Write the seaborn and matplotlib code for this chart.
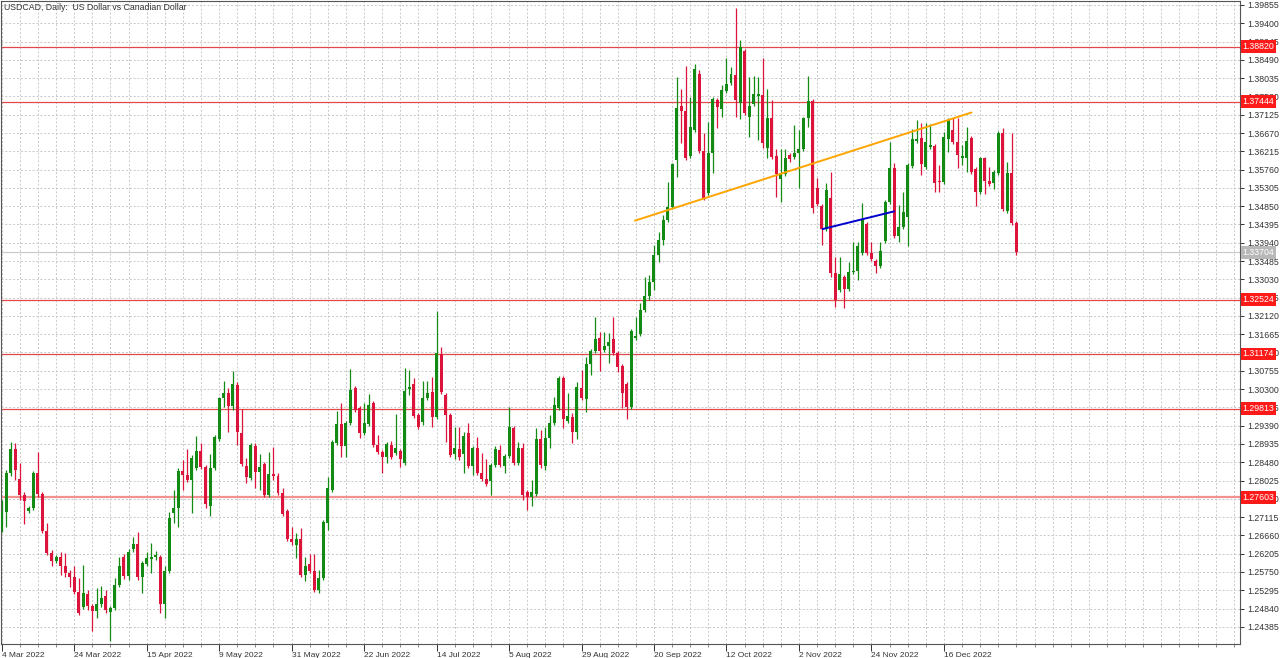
import numpy as np
import pandas as pd
import matplotlib
matplotlib.use('Agg')
import matplotlib.pyplot as plt
import seaborn as sns

sns.set_theme(style='white')
plt.rcParams['font.family'] = ['Liberation Sans', 'DejaVu Sans']

# ------------- data (USDCAD daily, 4 Mar 2022 .. end Dec 2022) -------------
opens = [
    1.2682, 1.2724, 1.2822, 1.2881, 1.2807, 1.2767, 1.2727, 1.2734, 1.2822, 1.2769,
    1.2677, 1.2623, 1.2603, 1.2613, 1.2590, 1.2573, 1.2563, 1.2525, 1.2488, 1.2520,
    1.2490, 1.2478, 1.2495, 1.2515, 1.2475, 1.2485, 1.2543, 1.2613, 1.2565, 1.2633,
    1.2645, 1.2563, 1.2595, 1.2608, 1.2613, 1.2613, 1.2495, 1.2578, 1.2722, 1.2734,
    1.2827, 1.2817, 1.2804, 1.2834, 1.2876, 1.2837, 1.2739, 1.2834, 1.2906, 1.3008,
    1.3021, 1.2988, 1.3041, 1.2921, 1.2839, 1.2809, 1.2888, 1.2824, 1.2844, 1.2767,
    1.2819, 1.2814, 1.2772, 1.2727, 1.2657, 1.2643, 1.2657, 1.2568, 1.2595, 1.2578,
    1.2530, 1.2560, 1.2697, 1.2779, 1.2896, 1.2943, 1.2888, 1.2946, 1.3033, 1.2983,
    1.2921, 1.2943, 1.2996, 1.2891, 1.2873, 1.2861, 1.2891, 1.2871, 1.2876, 1.2847,
    1.3031, 1.3043, 1.2966, 1.2948, 1.3008, 1.3023, 1.2961, 1.3117, 1.3016, 1.2966,
    1.2868, 1.2881, 1.2868, 1.2921, 1.2839, 1.2883, 1.2822, 1.2807, 1.2802, 1.2842,
    1.2878, 1.2839, 1.2863, 1.2933, 1.2847, 1.2883, 1.2774, 1.2762, 1.2769, 1.2906,
    1.2839, 1.2908, 1.2946, 1.2983, 1.3058, 1.2951, 1.2961, 1.2923, 1.3033, 1.3006,
    1.3092, 1.3125, 1.3157, 1.3127, 1.3137, 1.3155, 1.3120, 1.3087, 1.3043, 1.2986,
    1.3157, 1.3167, 1.3227, 1.3262, 1.3296, 1.3364, 1.3401, 1.3451, 1.3483, 1.3600,
    1.3734, 1.3722, 1.3610, 1.3675, 1.3814, 1.3623, 1.3518, 1.3618, 1.3749, 1.3727,
    1.3772, 1.3792, 1.3812, 1.3742, 1.3872, 1.3707, 1.3739, 1.3759, 1.3762, 1.3630,
    1.3704, 1.3610, 1.3553, 1.3565, 1.3613, 1.3608, 1.3618, 1.3628, 1.3704, 1.3747,
    1.3530, 1.3485, 1.3429, 1.3505, 1.3319, 1.3276, 1.3309, 1.3279, 1.3321, 1.3324,
    1.3369, 1.3441, 1.3369, 1.3349, 1.3336, 1.3399, 1.3495, 1.3580, 1.3411, 1.3434,
    1.3459, 1.3585, 1.3648, 1.3655, 1.3583, 1.3633, 1.3635, 1.3548, 1.3545, 1.3653,
    1.3675, 1.3645, 1.3605, 1.3605, 1.3655, 1.3578, 1.3520, 1.3605, 1.3548, 1.3543,
    1.3568, 1.3668, 1.3474, 1.3568, 1.3444,
]
highs = [
    1.2754, 1.2829, 1.2898, 1.2896, 1.2847, 1.2774, 1.2739, 1.2827, 1.2873, 1.2774,
    1.2697, 1.2630, 1.2618, 1.2625, 1.2623, 1.2580, 1.2590, 1.2560, 1.2593, 1.2530,
    1.2495, 1.2535, 1.2540, 1.2530, 1.2490, 1.2560, 1.2613, 1.2620, 1.2633, 1.2662,
    1.2674, 1.2603, 1.2625, 1.2648, 1.2628, 1.2618, 1.2590, 1.2724, 1.2779, 1.2834,
    1.2854, 1.2881, 1.2866, 1.2913, 1.2896, 1.2842, 1.2868, 1.2916, 1.3011, 1.3051,
    1.3033, 1.3075, 1.3048, 1.2981, 1.2858, 1.2896, 1.2896, 1.2868, 1.2849, 1.2873,
    1.2886, 1.2822, 1.2784, 1.2732, 1.2687, 1.2672, 1.2684, 1.2613, 1.2620, 1.2620,
    1.2580, 1.2704, 1.2812, 1.2903, 1.2976, 1.2996, 1.2951, 1.3080, 1.3038, 1.2988,
    1.2996, 1.3018, 1.3001, 1.2916, 1.2878, 1.2898, 1.2901, 1.2968, 1.2881, 1.3082,
    1.3077, 1.3058, 1.2971, 1.3051, 1.3051, 1.3061, 1.3225, 1.3135, 1.3021, 1.2971,
    1.2936, 1.2936, 1.2923, 1.2946, 1.2888, 1.2911, 1.2871, 1.2857, 1.2847, 1.2888,
    1.2891, 1.2868, 1.2986, 1.2938, 1.2898, 1.2896, 1.2779, 1.2804, 1.2933, 1.2928,
    1.2936, 1.2966, 1.3011, 1.3063, 1.3063, 1.3021, 1.2971, 1.3048, 1.3077, 1.3110,
    1.3130, 1.3210, 1.3172, 1.3172, 1.3170, 1.3210, 1.3125, 1.3092, 1.3048, 1.3180,
    1.3210, 1.3245, 1.3309, 1.3314, 1.3389, 1.3421, 1.3464, 1.3545, 1.3593, 1.3807,
    1.3777, 1.3834, 1.3757, 1.3839, 1.3824, 1.3668, 1.3694, 1.3757, 1.3754, 1.3787,
    1.3854, 1.3832, 1.3978, 1.3898, 1.3877, 1.3807, 1.3809, 1.3807, 1.3854, 1.3777,
    1.3749, 1.3628, 1.3628, 1.3628, 1.3618, 1.3687, 1.3675, 1.3707, 1.3809, 1.3752,
    1.3555, 1.3490, 1.3543, 1.3570, 1.3359, 1.3359, 1.3314, 1.3346, 1.3396, 1.3396,
    1.3493, 1.3446, 1.3396, 1.3354, 1.3396, 1.3500, 1.3645, 1.3593, 1.3488, 1.3520,
    1.3593, 1.3678, 1.3699, 1.3692, 1.3692, 1.3689, 1.3640, 1.3588, 1.3670, 1.3704,
    1.3704, 1.3704, 1.3638, 1.3683, 1.3660, 1.3583, 1.3608, 1.3608, 1.3583, 1.3575,
    1.3673, 1.3680, 1.3595, 1.3668, 1.3449,
]
lows = [
    1.2674, 1.2687, 1.2814, 1.2804, 1.2754, 1.2694, 1.2722, 1.2729, 1.2762, 1.2672,
    1.2618, 1.2590, 1.2598, 1.2568, 1.2563, 1.2538, 1.2520, 1.2468, 1.2483, 1.2480,
    1.2429, 1.2460, 1.2488, 1.2473, 1.2404, 1.2480, 1.2538, 1.2558, 1.2555, 1.2625,
    1.2555, 1.2523, 1.2590, 1.2573, 1.2605, 1.2473, 1.2460, 1.2573, 1.2697, 1.2687,
    1.2779, 1.2799, 1.2722, 1.2829, 1.2832, 1.2734, 1.2714, 1.2829, 1.2901, 1.2986,
    1.2923, 1.2978, 1.2891, 1.2839, 1.2797, 1.2804, 1.2784, 1.2779, 1.2762, 1.2762,
    1.2804, 1.2767, 1.2714, 1.2652, 1.2643, 1.2610, 1.2563, 1.2553, 1.2573, 1.2525,
    1.2523, 1.2555, 1.2679, 1.2774, 1.2891, 1.2861, 1.2861, 1.2941, 1.2973, 1.2908,
    1.2916, 1.2938, 1.2886, 1.2868, 1.2822, 1.2847, 1.2857, 1.2866, 1.2837, 1.2842,
    1.3016, 1.2958, 1.2931, 1.2941, 1.3003, 1.2936, 1.2956, 1.3018, 1.2898, 1.2861,
    1.2857, 1.2854, 1.2822, 1.2834, 1.2817, 1.2817, 1.2802, 1.2789, 1.2767, 1.2837,
    1.2837, 1.2822, 1.2858, 1.2842, 1.2842, 1.2754, 1.2729, 1.2739, 1.2764, 1.2834,
    1.2829, 1.2883, 1.2941, 1.2978, 1.2933, 1.2946, 1.2896, 1.2906, 1.3003, 1.2973,
    1.3065, 1.3120, 1.3075, 1.3122, 1.3095, 1.3115, 1.3072, 1.2983, 1.2956, 1.2981,
    1.3152, 1.3162, 1.3222, 1.3252, 1.3276, 1.3346, 1.3389, 1.3446, 1.3479, 1.3558,
    1.3643, 1.3600, 1.3605, 1.3670, 1.3618, 1.3500, 1.3513, 1.3568, 1.3680, 1.3707,
    1.3767, 1.3787, 1.3707, 1.3702, 1.3712, 1.3658, 1.3734, 1.3650, 1.3630, 1.3605,
    1.3603, 1.3508, 1.3495, 1.3560, 1.3595, 1.3603, 1.3530, 1.3623, 1.3683, 1.3469,
    1.3485, 1.3389, 1.3424, 1.3309, 1.3235, 1.3272, 1.3232, 1.3274, 1.3316, 1.3301,
    1.3364, 1.3364, 1.3349, 1.3319, 1.3331, 1.3394, 1.3490, 1.3406, 1.3396, 1.3429,
    1.3386, 1.3580, 1.3643, 1.3563, 1.3578, 1.3628, 1.3520, 1.3520, 1.3540, 1.3620,
    1.3640, 1.3580, 1.3588, 1.3570, 1.3565, 1.3485, 1.3515, 1.3515, 1.3535, 1.3528,
    1.3563, 1.3474, 1.3469, 1.3439, 1.3364,
]
closes = [
    1.2724, 1.2822, 1.2881, 1.2829, 1.2767, 1.2752, 1.2734, 1.2822, 1.2769, 1.2677,
    1.2623, 1.2603, 1.2613, 1.2590, 1.2573, 1.2563, 1.2525, 1.2473, 1.2523, 1.2490,
    1.2478, 1.2495, 1.2510, 1.2480, 1.2485, 1.2543, 1.2590, 1.2565, 1.2625, 1.2645,
    1.2563, 1.2598, 1.2610, 1.2613, 1.2615, 1.2495, 1.2578, 1.2709, 1.2734, 1.2827,
    1.2817, 1.2804, 1.2858, 1.2876, 1.2837, 1.2744, 1.2834, 1.2911, 1.3008, 1.3021,
    1.2988, 1.3043, 1.2923, 1.2844, 1.2812, 1.2891, 1.2824, 1.2837, 1.2767, 1.2819,
    1.2814, 1.2772, 1.2719, 1.2657, 1.2650, 1.2657, 1.2568, 1.2590, 1.2578, 1.2530,
    1.2560, 1.2699, 1.2784, 1.2898, 1.2943, 1.2888, 1.2946, 1.3028, 1.2978, 1.2921,
    1.2946, 1.2991, 1.2891, 1.2873, 1.2861, 1.2893, 1.2861, 1.2883, 1.2857, 1.3026,
    1.3033, 1.2963, 1.2936, 1.3008, 1.3021, 1.2961, 1.3120, 1.3023, 1.2966, 1.2866,
    1.2883, 1.2861, 1.2913, 1.2839, 1.2883, 1.2822, 1.2807, 1.2794, 1.2842, 1.2881,
    1.2842, 1.2863, 1.2936, 1.2847, 1.2883, 1.2767, 1.2762, 1.2774, 1.2906, 1.2842,
    1.2908, 1.2946, 1.2991, 1.3058, 1.2956, 1.2963, 1.2923, 1.3036, 1.3008, 1.3092,
    1.3125, 1.3155, 1.3125, 1.3137, 1.3147, 1.3120, 1.3085, 1.3021, 1.2986, 1.3175,
    1.3162, 1.3227, 1.3262, 1.3296, 1.3364, 1.3401, 1.3451, 1.3483, 1.3590, 1.3729,
    1.3722, 1.3605, 1.3683, 1.3827, 1.3623, 1.3505, 1.3618, 1.3752, 1.3732, 1.3774,
    1.3789, 1.3814, 1.3749, 1.3882, 1.3717, 1.3734, 1.3764, 1.3764, 1.3643, 1.3704,
    1.3608, 1.3565, 1.3568, 1.3605, 1.3603, 1.3618, 1.3628, 1.3704, 1.3747, 1.3480,
    1.3490, 1.3429, 1.3525, 1.3319, 1.3252, 1.3316, 1.3279, 1.3321, 1.3324, 1.3386,
    1.3451, 1.3369, 1.3354, 1.3336, 1.3374, 1.3495, 1.3580, 1.3411, 1.3434, 1.3471,
    1.3588, 1.3653, 1.3653, 1.3590, 1.3645, 1.3635, 1.3543, 1.3545, 1.3658, 1.3699,
    1.3645, 1.3613, 1.3610, 1.3648, 1.3570, 1.3520, 1.3605, 1.3548, 1.3540, 1.3570,
    1.3668, 1.3479, 1.3568, 1.3444, 1.33704,
]

date_labels = ['4 Mar 2022', '24 Mar 2022', '15 Apr 2022', '9 May 2022', '31 May 2022',
               '22 Jun 2022', '14 Jul 2022', '5 Aug 2022', '29 Aug 2022', '20 Sep 2022',
               '12 Oct 2022', '2 Nov 2022', '24 Nov 2022', '16 Dec 2022']
bars_per_label = 16

levels = [1.38820, 1.37444, 1.32524, 1.31174, 1.29813, 1.27603]

# trend lines (bar index, price)
orange_x = [139.8, 214.1]
orange_y = [1.3449, 1.3718]
blue_x = [181.2, 197.0]
blue_y = [1.3428, 1.3472]

GREEN = '#138a13'
RED = '#dc143c'
TXT = '#333333'

df = pd.DataFrame({'open': opens, 'high': highs, 'low': lows, 'close': closes})
df['bar'] = np.arange(len(df))
df['up'] = df['close'] >= df['open']
df['color'] = np.where(df['up'], GREEN, RED)

# ------------- figure -------------
W, H = 1280, 658
fig = plt.figure(figsize=(W / 100, H / 100), dpi=100)
fig.patch.set_facecolor('white')
ax = fig.add_axes([0.5 / W, 14 / H, 1239.5 / W, 643 / H])
ax.set_facecolor('white')

px = 4.53  # pixels per bar
ax.set_xlim((0.5 - 1.67) / px, (1240 - 1.67) / px)
ax.set_ylim(1.23958, 1.39954)

# grid
yt = np.round(1.24385 + 0.00455 * np.arange(35), 5)
ax.set_yticks(yt)
ax.set_yticklabels([f'{v:.5f}' for v in yt])
ax.set_xticks(np.arange(0, 274, 4), minor=True)
ax.set_xticks(np.arange(len(date_labels)) * bars_per_label)
ax.set_xticklabels(date_labels, ha='left')
ax.grid(True, which='both', axis='x', color='#c8c8c8', lw=0.7, ls=(0, (2, 2)))
ax.grid(True, which='major', axis='y', color='#c8c8c8', lw=0.7, ls=(0, (2, 2)))
ax.set_axisbelow(True)

ax.yaxis.tick_right()
ax.tick_params(axis='y', which='major', right=True, left=False, length=3, width=0.7,
               pad=2, labelsize=6.3, colors=TXT, direction='out')
ax.tick_params(axis='x', which='major', bottom=True, length=5, width=0.7, pad=1,
               labelsize=6, colors=TXT, direction='out')
ax.tick_params(axis='x', which='minor', bottom=True, length=2, width=0.6, colors='#777777')
for s in ax.spines.values():
    s.set_color('#555555')
    s.set_linewidth(0.8)

# horizontal levels
for lv in levels:
    if lv == 1.27603:
        ax.axhline(lv, color='#f39090', lw=1.6, zorder=1.5)
    else:
        ax.axhline(lv, color='#e34848', lw=0.9, zorder=1.5)
ax.axhline(closes[-1], color='#c8c8c8', lw=0.8, zorder=1.4)

# candles
ax.vlines(df['bar'], df['low'], df['high'], colors=df['color'], lw=0.9, zorder=3)
body = (df['close'] - df['open']).abs().clip(lower=0.0003)
ax.bar(df['bar'], body, bottom=df[['open', 'close']].min(axis=1), width=0.66,
       color=df['color'], linewidth=0, zorder=4)

# trend lines
sns.lineplot(x=orange_x, y=orange_y, ax=ax, color='#ffa500', lw=1.4, legend=False, zorder=5)
sns.lineplot(x=blue_x, y=blue_y, ax=ax, color='#0000cd', lw=1.4, legend=False, zorder=5)
ax.set_xlabel('')
ax.set_ylabel('')

# price labels on the right axis
tr = ax.get_yaxis_transform()
xlab = 1.0 + 2.5 / 1239.5
for lv in levels:
    ax.text(xlab, lv, f'{lv:.5f}', transform=tr, ha='left', va='center', fontsize=6.3,
            color='white', zorder=10, clip_on=False,
            bbox=dict(boxstyle='square,pad=0.22', fc='#ff1a1a', ec='none'))
ax.text(xlab, closes[-1], f'{closes[-1]:.5f}', transform=tr, ha='left', va='center',
        fontsize=6.3, color='white', zorder=10, clip_on=False,
        bbox=dict(boxstyle='square,pad=0.22', fc='#b8b8b8', ec='none'))

ax.text(4 / 1239.5, 1 - 7 / 643, 'USDCAD, Daily:  US Dollar vs Canadian Dollar',
        transform=ax.transAxes, ha='left', va='center', fontsize=6.3, color=TXT)

fig.savefig('out.png', dpi=100, facecolor='white')
